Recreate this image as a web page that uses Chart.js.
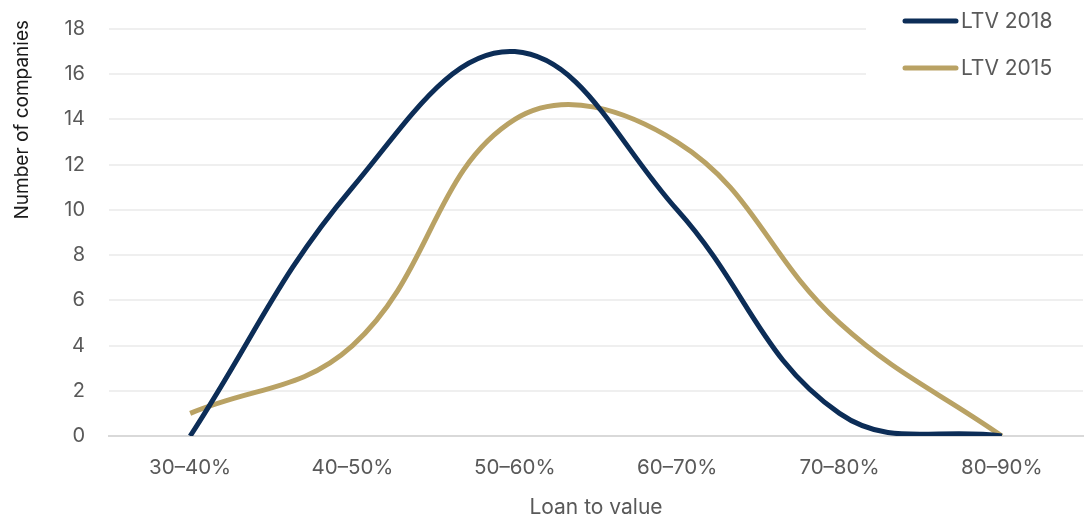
<!DOCTYPE html>
<html>
<head>
<meta charset="utf-8">
<script src="https://cdn.jsdelivr.net/npm/chart.js@4/dist/chart.umd.min.js"></script>
<style>
  html, body { margin: 0; padding: 0; background: #fff; }
  #wrap { width: 1089px; height: 517px; position: relative; }
</style>
</head>
<body>
<div id="wrap"><canvas id="ltvChart"></canvas></div>
<script>
const categories = ['30–40%', '40–50%', '50–60%', '60–70%', '70–80%', '80–90%'];
const ltv2018 = [0, 11, 17, 10, 1, 0];
const ltv2015 = [1, 4, 14, 13, 5, 0];
const seriesNames = ['LTV 2018', 'LTV 2015'];
const seriesColors = ['#0c2d57', '#b9a264'];

const textColor = '#595959';
const fontFamily = 'Inter, "Open Sans", sans-serif';

// legend + y title drawn by hand (legend sits top-right over a white patch)
const extras = {
    id: 'extras',
    afterDraw(chart) {
        const ctx = chart.ctx;
        ctx.save();
        ctx.fillStyle = '#fff';
        ctx.fillRect(866, 0, 223, 100);
        const rows = [21, 68];
        seriesNames.forEach(function (name, i) {
            ctx.strokeStyle = seriesColors[i];
            ctx.lineWidth = 5;
            ctx.lineCap = 'round';
            ctx.beginPath();
            ctx.moveTo(905, rows[i]);
            ctx.lineTo(956, rows[i]);
            ctx.stroke();
            ctx.fillStyle = textColor;
            ctx.font = '21px ' + fontFamily;
            ctx.textBaseline = 'middle';
            ctx.textAlign = 'left';
            ctx.fillText(name, 961, rows[i] + 1);
        });

        ctx.translate(22, 20);
        ctx.rotate(-Math.PI / 2);
        ctx.fillStyle = '#1a1a1a';
        ctx.font = '19px ' + fontFamily;
        ctx.textAlign = 'right';
        ctx.textBaseline = 'middle';
        ctx.fillText('Number of companies', 0, 0);
        ctx.restore();
    }
};

new Chart(document.getElementById('ltvChart'), {
    type: 'line',
    data: {
        labels: categories,
        datasets: [
            { label: seriesNames[0], data: ltv2018, borderColor: seriesColors[0] },
            { label: seriesNames[1], data: ltv2015, borderColor: seriesColors[1] }
        ]
    },
    options: {
        responsive: true,
        maintainAspectRatio: false,
        animation: false,
        layout: { padding: { top: 29, right: 6, left: 0, bottom: 0 } },
        elements: {
            line: { borderWidth: 5, tension: 0.4, fill: false, borderCapStyle: 'butt', capBezierPoints: false },
            point: { radius: 0 }
        },
        plugins: {
            legend: { display: false },
            tooltip: { enabled: false }
        },
        scales: {
            x: {
                offset: true,
                grid: { display: false },
                border: { color: '#d9d9d9', width: 2 },
                ticks: { color: textColor, font: { family: fontFamily, size: 20.5 }, padding: 12, maxRotation: 0 },
                title: { display: true, text: 'Loan to value', color: textColor, font: { family: fontFamily, size: 21 }, padding: { top: 4, bottom: -3 } },
                afterFit(axis) { axis.height = 81; }
            },
            y: {
                min: 0,
                max: 18,
                ticks: { stepSize: 2, color: textColor, font: { family: fontFamily, size: 20 }, padding: 24 },
                grid: { color: '#efefef', lineWidth: 2, drawTicks: false },
                border: { display: false },
                afterFit(axis) {
                    axis.width = 109;
                    axis.paddingTop = 0;
                    axis.paddingBottom = 0;
                }
            }
        }
    },
    plugins: [extras]
});
</script>
</body>
</html>
